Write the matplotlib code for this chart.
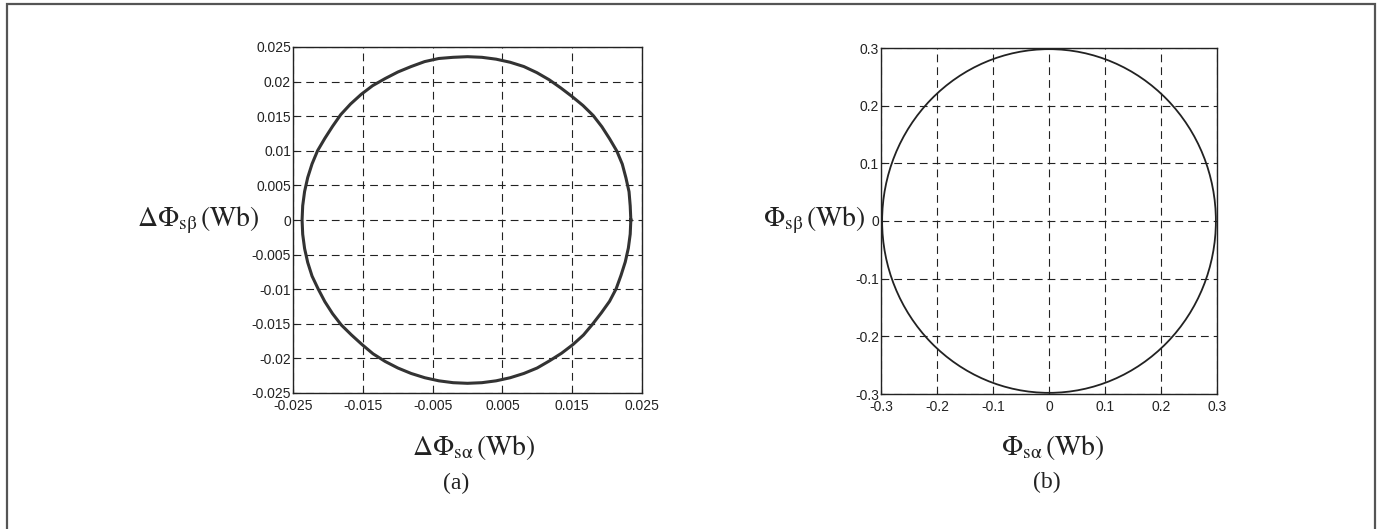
import numpy as np
import matplotlib
matplotlib.use("Agg")
import matplotlib.pyplot as plt
from matplotlib.patches import Circle, Rectangle

plt.rcParams['mathtext.fontset'] = 'stix'
plt.rcParams['font.family'] = ['Liberation Sans', 'DejaVu Sans']

# === Data: flux trajectories ===
# (a) flux error locus: radius read at every 5 degrees (0 .. 355)
angles_a = list(range(0, 360, 5))
radius_a = [0.0234, 0.0234, 0.0235, 0.0235, 0.0236, 0.0236, 0.0235, 0.0235, 0.0235, 0.0234, 0.0233, 0.0233,
            0.0234, 0.0235, 0.0236, 0.0236, 0.0236, 0.0236, 0.0236, 0.0236, 0.0237, 0.0237, 0.0236, 0.0236,
            0.0236, 0.0237, 0.0237, 0.0237, 0.0237, 0.0236, 0.0236, 0.0237, 0.0237, 0.0237, 0.0237, 0.0237,
            0.0237, 0.0237, 0.0237, 0.0237, 0.0237, 0.0236, 0.0236, 0.0236, 0.0236, 0.0235, 0.0235, 0.0236,
            0.0236, 0.0236, 0.0236, 0.0236, 0.0236, 0.0236, 0.0236, 0.0236, 0.0236, 0.0236, 0.0236, 0.0236,
            0.0235, 0.0235, 0.0235, 0.0235, 0.0234, 0.0234, 0.0235, 0.0235, 0.0234, 0.0234, 0.0234, 0.0234]
# (b) stator flux locus
radius_b = 0.298

xticks_a = [-0.025, -0.015, -0.005, 0.005, 0.015, 0.025]
xlabels_a = ['-0.025', '-0.015', '-0.005', '0.005', '0.015', '0.025']
yticks_a = [-0.025, -0.02, -0.015, -0.01, -0.005, 0, 0.005, 0.01, 0.015, 0.02, 0.025]
ylabels_a = ['-0.025', '-0.02', '-0.015', '-0.01', '-0.005', '0', '0.005', '0.01', '0.015', '0.02', '0.025']
ticks_b = [-0.3, -0.2, -0.1, 0, 0.1, 0.2, 0.3]
labels_b = ['-0.3', '-0.2', '-0.1', '0', '0.1', '0.2', '0.3']

# === Figure ===
W, H = 1380, 529
fig = plt.figure(figsize=(W / 100, H / 100), dpi=100)

# outer frame
fig.patches.append(Rectangle((7 / W, -0.05), 1368 / W, 1.05 - 4 / H, transform=fig.transFigure,
                             fill=False, edgecolor='#555555', linewidth=1.6))


def px_axes(x0, y0, x1, y1):
    return fig.add_axes([x0 / W, 1 - y1 / H, (x1 - x0) / W, (y1 - y0) / H])


def style(ax):
    ax.grid(True, color='#222222', linestyle=(0, (7, 4.5)), linewidth=0.8)
    ax.tick_params(direction='in', length=3, labelsize=10, pad=1.5, colors='#222222')
    ax.tick_params(axis='x', pad=4)
    for s in ax.spines.values():
        s.set_linewidth(1.0)
        s.set_color('#222222')


# (a)
ax1 = px_axes(293, 47, 642, 393)
th = np.deg2rad(angles_a + [angles_a[0]])
r = np.array(radius_a + [radius_a[0]])
ax1.plot(r * np.cos(th), r * np.sin(th), color='#333333', linewidth=2.2)
ax1.set_xlim(-0.025, 0.025)
ax1.set_ylim(-0.025, 0.025)
ax1.set_xticks(xticks_a, xlabels_a)
ax1.set_yticks(yticks_a, ylabels_a)
style(ax1)

# (b)
ax2 = px_axes(881, 48, 1217, 394)
ax2.add_patch(Circle((0, 0), radius_b, fill=False, edgecolor='#222222', linewidth=1.3))
ax2.set_xlim(-0.3, 0.3)
ax2.set_ylim(-0.3, 0.3)
ax2.set_xticks(ticks_b, labels_b)
ax2.set_yticks(ticks_b, labels_b)
style(ax2)

# labels
lab = dict(fontsize=20, ha='center', va='center', color='#222222')
fig.text(198 / W, 1 - 220 / H, r'$\Delta\Phi_{\mathrm{sβ}}\,\left(\mathrm{Wb}\right)$', **lab)
fig.text(474 / W, 1 - 448 / H, r'$\Delta\Phi_{\mathrm{sα}}\,\left(\mathrm{Wb}\right)$', **lab)
fig.text(814 / W, 1 - 220 / H, r'$\Phi_{\mathrm{sβ}}\,\left(\mathrm{Wb}\right)$', **lab)
fig.text(1053 / W, 1 - 447 / H, r'$\Phi_{\mathrm{sα}}\,\left(\mathrm{Wb}\right)$', **lab)
fig.text(456 / W, 1 - 483 / H, '(a)', fontsize=17, ha='center', va='center',
         family='Liberation Serif', color='#222222')
fig.text(1047 / W, 1 - 482 / H, '(b)', fontsize=17, ha='center', va='center',
         family='Liberation Serif', color='#222222')

fig.savefig('out.png', dpi=100, facecolor='white')
